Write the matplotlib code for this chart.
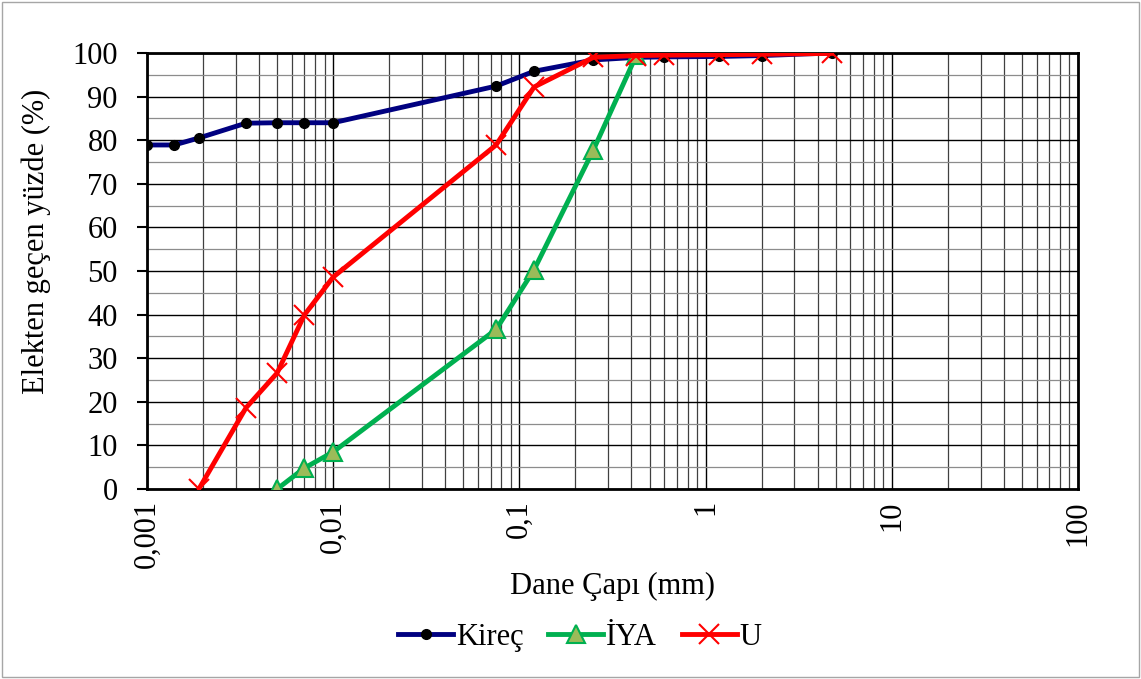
import matplotlib
matplotlib.use('Agg')
from matplotlib import pyplot as plt
from matplotlib.patches import Rectangle
from matplotlib.ticker import FixedLocator, FuncFormatter, LogLocator, NullFormatter

plt.rcParams['font.family'] = ['Liberation Serif', 'DejaVu Serif']

# elek / hidrometre çapları (mm) ve geçen yüzdeler
kirec_d = [0.001, 0.0014, 0.0019, 0.0034, 0.005, 0.007, 0.01, 0.075, 0.12, 0.25, 0.425, 0.6, 1.18, 2.0, 4.75]
kirec_p = [78.9, 78.9, 80.5, 83.9, 84.0, 84.0, 84.0, 92.4, 95.8, 98.4, 99.0, 99.1, 99.2, 99.4, 100.0]

iya_d = [0.005, 0.007, 0.01, 0.075, 0.12, 0.25, 0.425]
iya_p = [0.0, 4.8, 8.5, 36.6, 50.3, 77.8, 99.5]

u_d = [0.0019, 0.0034, 0.005, 0.007, 0.01, 0.075, 0.12, 0.25, 0.425, 0.6, 1.18, 2.0, 4.75]
u_p = [0.0, 18.6, 26.6, 39.9, 48.6, 78.9, 92.2, 99.0, 99.4, 99.5, 99.6, 99.7, 99.9]

x_ticks = [0.001, 0.01, 0.1, 1, 10, 100]
x_labels = ['0,001', '0,01', '0,1', '1', '10', '100']

fig = plt.figure(figsize=(11.41, 6.79), dpi=100)
ax = fig.add_axes([0.1288, 0.2798, 0.8160, 0.6422])

ax.plot(kirec_d, kirec_p, color='#000080', lw=3.5, marker='o', ms=7,
        mfc='black', mec='black', label='Kireç', zorder=3)
ax.plot(iya_d, iya_p, color='#00B050', lw=3.5, marker='^', ms=13,
        mfc='#9BBB59', mec='#00B050', mew=1.5, label='İYA', zorder=4)
ax.plot(u_d, u_p, color='#FF0000', lw=3.5, marker='x', ms=14,
        mew=1.5, label='U', zorder=5)

ax.set_xscale('log')
ax.set_xlim(0.001, 100)
ax.set_ylim(0, 100)
ax.xaxis.set_major_locator(FixedLocator(x_ticks))
ax.xaxis.set_major_formatter(FuncFormatter(lambda v, p: x_labels[x_ticks.index(v)] if v in x_ticks else ''))
ax.xaxis.set_minor_locator(LogLocator(base=10, subs=range(2, 10), numticks=20))
ax.xaxis.set_minor_formatter(NullFormatter())
ax.set_yticks(range(0, 101, 10))
ax.set_yticks(range(5, 100, 10), minor=True)

ax.grid(True, which='major', axis='both', color='black', lw=1.0)
ax.grid(True, which='minor', axis='x', color='#404040', lw=0.9)
ax.grid(True, which='minor', axis='y', color='#8c8c8c', lw=0.9)
ax.set_axisbelow(True)

for s in ax.spines.values():
    s.set_linewidth(2)
ax.tick_params(axis='y', which='major', length=7, width=1.5, labelsize=22, pad=14)
ax.tick_params(axis='y', which='minor', length=0)
ax.tick_params(axis='x', which='both', length=0, labelsize=22, pad=8)
for lb in ax.get_xticklabels():
    lb.set_rotation(90)

ax.set_xlabel('Dane Çapı (mm)', fontsize=22, labelpad=3)
ax.set_ylabel('Elekten geçen yüzde (%)', fontsize=22)
ax.yaxis.set_label_coords(-0.103, 0.569)

ax.legend(loc='center', bbox_to_anchor=(0.465, -0.34), ncol=3, frameon=False,
          fontsize=22, handlelength=1.8, columnspacing=0.8, handletextpad=0.1)

fig.add_artist(Rectangle((0.002, 0.003), 0.996, 0.994, transform=fig.transFigure,
                         fill=False, edgecolor='#a6a6a6', lw=1))

fig.savefig('out.png', dpi=100)
